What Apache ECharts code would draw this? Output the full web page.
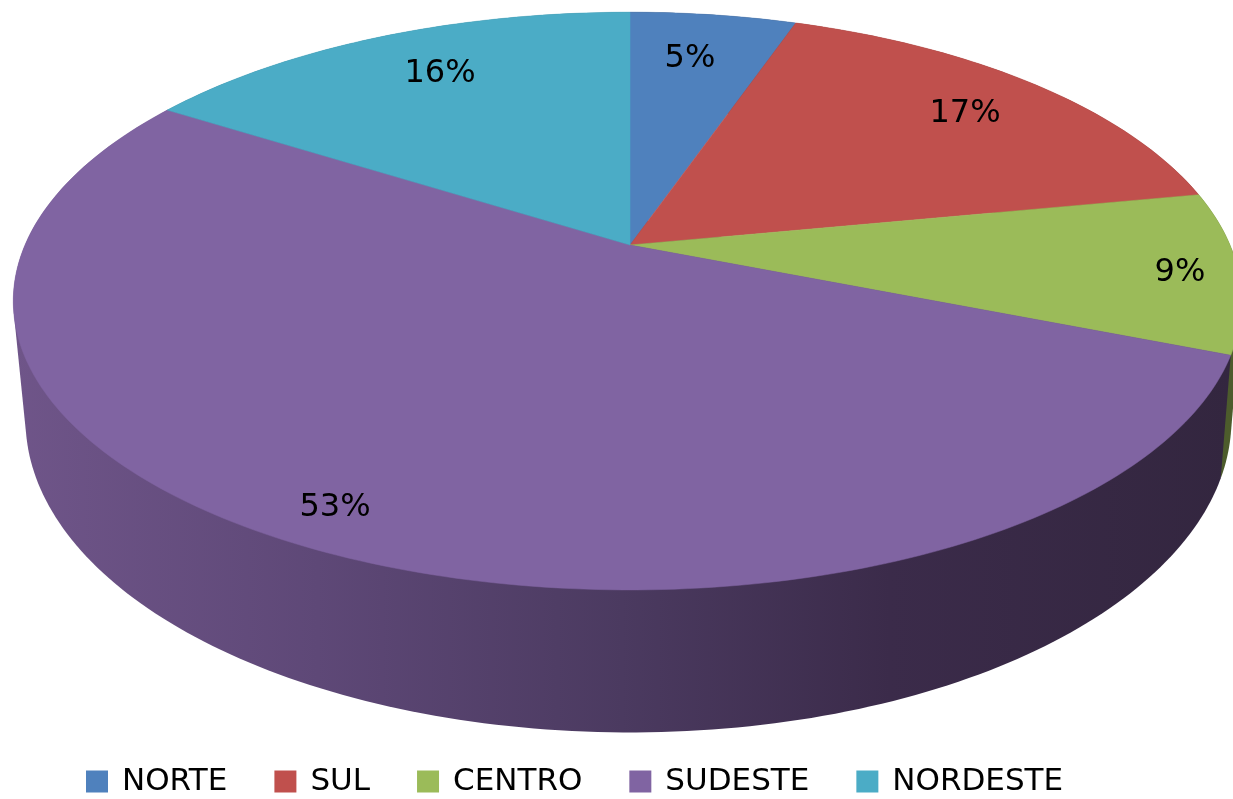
<!DOCTYPE html>
<html>
<head>
<meta charset="utf-8">
<style>html,body{margin:0;padding:0;background:#fff}#c{width:1233px;height:799px}</style>
<script src="https://cdn.jsdelivr.net/npm/echarts@6/dist/echarts.min.js"></script>
</head>
<body>
<div id="c"></div>
<script>
const categories = ['NORTE', 'SUL', 'CENTRO', 'SUDESTE', 'NORDESTE'];
const shares = [5.3, 16.7, 9, 53, 16];
const colors = ['#4f81bd', '#c0504d', '#9bbb59', '#8064a2', '#4bacc6'];

// Perspective disc geometry
const tilt = -0.194;
const topRim = { x: 630, y: 245, right: 600, left: 605, ry: 278 };
const lowRim = { x: 630, y: 359, right: 590, left: 593, ry: 301 };
const labelAnchors = [[690, 59], [965, 114], [1180, 273], [335, 508], [440, 74]];
const sideFill = [
  '#2d3a55', '#6e2f2d', '#4d5c2c',
  { type: 'linear', x: 0, y: 0, x2: 1, y2: 0, colorStops: [
    { offset: 0, color: '#6f5589' }, { offset: 0.25, color: '#5e4877' },
    { offset: 0.5, color: '#4b3a60' }, { offset: 0.72, color: '#3b2b4a' }, { offset: 1, color: '#33263f' }] },
  '#2b6c7d'
];

function project(rim, frac, r) {
  const t = frac * 2 * Math.PI, u = r * Math.sin(t), v = -r * Math.cos(t);
  const d = 1 + tilt * v;
  return [rim.x + (u >= 0 ? rim.right : rim.left) * u / d, rim.y + rim.ry * v / d];
}
function arc(rim, a, b) {
  const pts = [], n = Math.max(2, Math.ceil((b - a) * 360));
  for (let i = 0; i <= n; i++) pts.push(project(rim, a + (b - a) * i / n, 1));
  return pts;
}
// The side wall is the outline swept between the two rims: their convex hull.
function hull(points) {
  const p = points.slice().sort((m, n) => m[0] - n[0] || m[1] - n[1]);
  const cross = (o, m, n) => (m[0] - o[0]) * (n[1] - o[1]) - (m[1] - o[1]) * (n[0] - o[0]);
  const half = list => {
    const out = [];
    for (const q of list) {
      while (out.length > 1 && cross(out[out.length - 2], out[out.length - 1], q) <= 0) out.pop();
      out.push(q);
    }
    out.pop();
    return out;
  };
  return half(p).concat(half(p.slice().reverse()));
}
const total = shares.reduce((s, v) => s + v, 0);
let running = 0;
const series = categories.map((name, i) => {
  const start = running / total;
  running += shares[i];
  return {
    type: 'custom', name, coordinateSystem: 'none', silent: true,
    itemStyle: { color: colors[i] },
    data: [[start, shares[i] / total, shares[i]]],
    renderItem(params, api) {
      const a = api.value(0), b = a + api.value(1);
      const top = arc(topRim, a, b), low = arc(lowRim, a, b);
      return {
        type: 'group',
        children: [
          { type: 'polygon', z2: 1, shape: { points: hull(top.concat(low)) },
            style: { fill: sideFill[i], stroke: null } },
          { type: 'polygon', z2: 10, shape: { points: [[topRim.x, topRim.y]].concat(top) },
            style: { fill: colors[i], stroke: colors[i], lineWidth: 0.5 } },
          { type: 'text', z2: 20, x: labelAnchors[i][0], y: labelAnchors[i][1],
            style: { text: Math.round(api.value(2)) + '%', fill: '#000',
              font: '32px "DejaVu Sans"', textAlign: 'center', textVerticalAlign: 'middle' } }
        ]
      };
    }
  };
});

const chart = echarts.init(document.getElementById('c'), null, { renderer: 'canvas' });
chart.setOption({
  animation: false,
  backgroundColor: '#fff',
  legend: {
    data: categories.map(n => ({ name: n, icon: 'rect' })),
    left: 86, top: 766, orient: 'horizontal', padding: 0,
    itemWidth: 22, itemHeight: 22, itemGap: 47,
    selectedMode: false,
    textStyle: { fontFamily: 'DejaVu Sans', fontSize: 31, color: '#000', padding: [8, 0, 0, 9] }
  },
  series
});
</script>
</body>
</html>
